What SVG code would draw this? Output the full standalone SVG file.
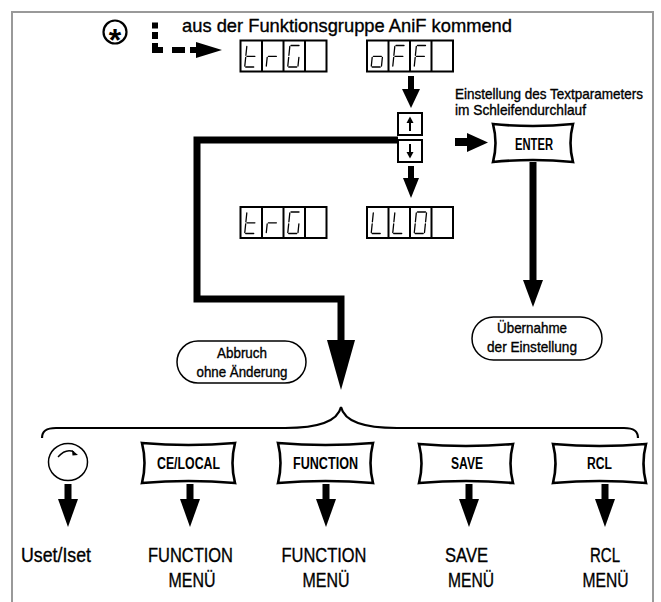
<svg xmlns="http://www.w3.org/2000/svg" xmlns:xlink="http://www.w3.org/1999/xlink" width="661" height="602" viewBox="0 0 661 602">
<style>
.t{font-family:"Liberation Sans",Arial,sans-serif;fill:#000}
.h{stroke:#000;stroke-width:0.35}
.b{font-weight:bold}
.m{text-anchor:middle}
.seg{stroke:#000;stroke-width:1.3;fill:none;stroke-linecap:round}
.disp{fill:#fff;stroke:#000;stroke-width:2}
.box{fill:#fff;stroke:#000;stroke-width:2}
.btn{fill:#fff;stroke:#000;stroke-width:2.6;stroke-linejoin:miter}
.pill{fill:#fff;stroke:#000;stroke-width:1.5}
.fill{fill:#000;stroke:none}
.thick{fill:none;stroke:#000;stroke-width:7;stroke-linejoin:miter}
</style>
<defs>
<path id="sa" d="M7.5,5 L15.5,5"/>
<path id="sb" d="M16.5,6 L15.6,14.8"/>
<path id="sc" d="M15.4,16.8 L14.5,25.5"/>
<path id="sd" d="M5.2,26.5 L13.2,26.5"/>
<path id="se" d="M5.2,16.8 L4.3,25.5"/>
<path id="sf" d="M6.3,6 L5.4,14.8"/>
<path id="sg" d="M6.4,15.8 L14.4,15.8"/>
<g id="ch-t" class="seg"><use xlink:href="#sd"/><use xlink:href="#se"/><use xlink:href="#sf"/><use xlink:href="#sg"/></g>
<g id="ch-r" class="seg"><use xlink:href="#se"/><use xlink:href="#sg"/></g>
<g id="ch-G" class="seg"><use xlink:href="#sa"/><use xlink:href="#sc"/><use xlink:href="#sd"/><use xlink:href="#se"/><use xlink:href="#sf"/></g>
<g id="ch-o" class="seg"><use xlink:href="#sc"/><use xlink:href="#sd"/><use xlink:href="#se"/><use xlink:href="#sg"/></g>
<g id="ch-F" class="seg"><use xlink:href="#sa"/><use xlink:href="#se"/><use xlink:href="#sf"/><use xlink:href="#sg"/></g>
<g id="ch-L" class="seg"><use xlink:href="#sd"/><use xlink:href="#se"/><use xlink:href="#sf"/></g>
<g id="ch-0" class="seg"><use xlink:href="#sa"/><use xlink:href="#sb"/><use xlink:href="#sc"/><use xlink:href="#sd"/><use xlink:href="#se"/><use xlink:href="#sf"/></g>
<g id="cells">
<rect class="disp" x="0" y="0" width="86" height="31"/>
<line x1="21.5" y1="0" x2="21.5" y2="31" stroke="#000" stroke-width="2"/>
<line x1="43" y1="0" x2="43" y2="31" stroke="#000" stroke-width="2"/>
<line x1="64.5" y1="0" x2="64.5" y2="31" stroke="#000" stroke-width="2"/>
</g>
</defs>

<rect x="12" y="12" width="641" height="600" fill="none" stroke="#999" stroke-width="2"/>

<g id="connectors">
<rect class="fill" x="152" y="22.5" width="6" height="6"/>
<rect class="fill" x="152" y="32" width="6" height="7"/>
<rect class="fill" x="152" y="43" width="6" height="10"/>
<rect class="fill" x="152" y="47" width="11" height="6"/>
<rect class="fill" x="172" y="47" width="13" height="6"/>
<rect class="fill" x="190" y="47" width="8" height="6"/>
<polygon class="fill" points="196,42 222,50 196,58"/>
<rect class="fill" x="408" y="76" width="6" height="14"/>
<polygon class="fill" points="402,89 420,89 411,108"/>
<rect class="fill" x="408" y="166" width="6" height="13"/>
<polygon class="fill" points="403,178 419,178 411,198"/>
<path class="thick" d="M398,140 H197 V299 H341 V342"/>
<polygon class="fill" points="327,340 355,340 341,390"/>
<rect class="fill" x="455" y="138" width="13" height="8"/>
<polygon class="fill" points="467,133 467,152 488,142.5"/>
<line x1="533" y1="162" x2="533" y2="282" stroke="#000" stroke-width="7"/>
<polygon class="fill" points="523,280 543,280 533,307"/>
<path d="M42,438 C42,431 46,428 56,428 L285,428 C320,428 338,420 341,407 C344,420 362,428 397,428 L624,428 C634,428 638,431 638,438" fill="none" stroke="#000" stroke-width="2.2"/>
<rect class="fill" x="64.5" y="484" width="7" height="17"/>
<polygon class="fill" points="58,499 78,499 68,527"/>
<rect class="fill" x="186.5" y="484" width="7" height="17"/>
<polygon class="fill" points="180,499 200,499 190,527"/>
<rect class="fill" x="322.5" y="484" width="7" height="17"/>
<polygon class="fill" points="316,499 336,499 326,527"/>
<rect class="fill" x="465.5" y="484" width="7" height="17"/>
<polygon class="fill" points="459,499 479,499 469,527"/>
<rect class="fill" x="601.5" y="484" width="7" height="17"/>
<polygon class="fill" points="595,499 615,499 605,527"/>
</g>

<g id="star">
<circle cx="115" cy="32" r="11.5" fill="#fff" stroke="#000" stroke-width="2.2"/>
<text class="t b m" x="115" y="50.5" font-size="32">*</text>
</g>

<g id="title-text">
<text class="t h" x="182" y="32" font-size="19" textLength="330" lengthAdjust="spacingAndGlyphs">aus der Funktionsgruppe AniF kommend</text>
</g>

<g id="display-trG-1">
<use xlink:href="#cells" x="240.5" y="40.5"/>
<use xlink:href="#ch-t" x="240.5" y="40.5"/>
<use xlink:href="#ch-r" x="262" y="40.5"/>
<use xlink:href="#ch-G" x="283.5" y="40.5"/>
</g>
<g id="display-oFF">
<use xlink:href="#cells" x="367" y="40.5"/>
<use xlink:href="#ch-o" x="367" y="40.5"/>
<use xlink:href="#ch-F" x="388.5" y="40.5"/>
<use xlink:href="#ch-F" x="410" y="40.5"/>
</g>
<g id="display-trG-2">
<use xlink:href="#cells" x="240.5" y="207"/>
<use xlink:href="#ch-t" x="240.5" y="207"/>
<use xlink:href="#ch-r" x="262" y="207"/>
<use xlink:href="#ch-G" x="283.5" y="207"/>
</g>
<g id="display-LLO">
<use xlink:href="#cells" x="367" y="207"/>
<use xlink:href="#ch-L" x="367" y="207"/>
<use xlink:href="#ch-L" x="388.5" y="207"/>
<use xlink:href="#ch-0" x="410" y="207"/>
</g>

<g id="updown">
<rect class="box" x="398" y="113" width="24" height="22"/>
<line x1="410" y1="131" x2="410" y2="121" stroke="#000" stroke-width="2"/>
<polygon class="fill" points="406.5,123 410,116.5 413.5,123"/>
<rect class="box" x="398" y="140" width="24" height="22"/>
<line x1="410" y1="144" x2="410" y2="154" stroke="#000" stroke-width="2"/>
<polygon class="fill" points="406.5,152 410,158.5 413.5,152"/>
</g>

<g id="hint-text">
<text class="t h" x="455" y="98.5" font-size="14.5" textLength="188" lengthAdjust="spacingAndGlyphs">Einstellung des Textparameters</text>
<text class="t h" x="455" y="114.5" font-size="14.5" textLength="131" lengthAdjust="spacingAndGlyphs">im Schleifendurchlauf</text>
</g>

<g id="enter">
<path class="btn" d="M493,124 Q533,128 573,124 Q568,143 573,162 Q533,158 493,162 Q498,143 493,124 Z"/>
<text class="t b m" x="534" y="150" font-size="16" textLength="38" lengthAdjust="spacingAndGlyphs">ENTER</text>
</g>

<g id="abbruch">
<rect class="pill" x="177" y="341" width="129" height="42" rx="21" ry="21"/>
<text class="t h m" x="242" y="358" font-size="14.5" textLength="50" lengthAdjust="spacingAndGlyphs">Abbruch</text>
<text class="t h m" x="242" y="377" font-size="14.5" textLength="91" lengthAdjust="spacingAndGlyphs">ohne Änderung</text>
</g>

<g id="uebernahme">
<rect class="pill" x="472" y="317" width="130" height="43" rx="21.5" ry="21.5"/>
<text class="t h m" x="532" y="333" font-size="14.5" textLength="70" lengthAdjust="spacingAndGlyphs">Übernahme</text>
<text class="t h m" x="532" y="352" font-size="14.5" textLength="90" lengthAdjust="spacingAndGlyphs">der Einstellung</text>
</g>

<g id="knob">
<ellipse cx="68" cy="462" rx="19.5" ry="18.5" fill="#fff" stroke="#000" stroke-width="1.5"/>
<path d="M58,457 Q66,448 74,452" fill="none" stroke="#000" stroke-width="1.3"/>
<polygon class="fill" points="72,450 78,455 72.5,455.5"/>
</g>

<g id="btn-celocal">
<path class="btn" d="M142,443 Q188.5,447 235,443 Q230,463 235,483 Q188.5,479 142,483 Q147,463 142,443 Z"/>
<text class="t b m" x="188.5" y="469" font-size="16" textLength="63" lengthAdjust="spacingAndGlyphs">CE/LOCAL</text>
</g>
<g id="btn-function">
<path class="btn" d="M278,443 Q325.5,447 373,443 Q368,463 373,483 Q325.5,479 278,483 Q283,463 278,443 Z"/>
<text class="t b m" x="325.5" y="469" font-size="16" textLength="65" lengthAdjust="spacingAndGlyphs">FUNCTION</text>
</g>
<g id="btn-save">
<path class="btn" d="M419,444 Q466,448 513,444 Q508,463.5 513,483 Q466,479 419,483 Q424,463.5 419,444 Z"/>
<text class="t b m" x="467" y="469" font-size="16" textLength="32" lengthAdjust="spacingAndGlyphs">SAVE</text>
</g>
<g id="btn-rcl">
<path class="btn" d="M553,444 Q599.5,448 646,444 Q641,463.5 646,483 Q599.5,479 553,483 Q558,463.5 553,444 Z"/>
<text class="t b m" x="599.5" y="469" font-size="16" textLength="25" lengthAdjust="spacingAndGlyphs">RCL</text>
</g>

<g id="labels">
<text class="t h" x="21" y="562" font-size="20" textLength="70" lengthAdjust="spacingAndGlyphs">Uset/Iset</text>
<text class="t h m" x="190.5" y="562" font-size="20" textLength="85" lengthAdjust="spacingAndGlyphs">FUNCTION</text>
<text class="t h m" x="192" y="587" font-size="20" textLength="47" lengthAdjust="spacingAndGlyphs">MENÜ</text>
<text class="t h m" x="324" y="562" font-size="20" textLength="85" lengthAdjust="spacingAndGlyphs">FUNCTION</text>
<text class="t h m" x="326" y="587" font-size="20" textLength="47" lengthAdjust="spacingAndGlyphs">MENÜ</text>
<text class="t h m" x="466.5" y="562" font-size="20" textLength="43" lengthAdjust="spacingAndGlyphs">SAVE</text>
<text class="t h m" x="471" y="587" font-size="20" textLength="46" lengthAdjust="spacingAndGlyphs">MENÜ</text>
<text class="t h m" x="605" y="562" font-size="20" textLength="30" lengthAdjust="spacingAndGlyphs">RCL</text>
<text class="t h m" x="605.5" y="587" font-size="20" textLength="46" lengthAdjust="spacingAndGlyphs">MENÜ</text>
</g>
</svg>
